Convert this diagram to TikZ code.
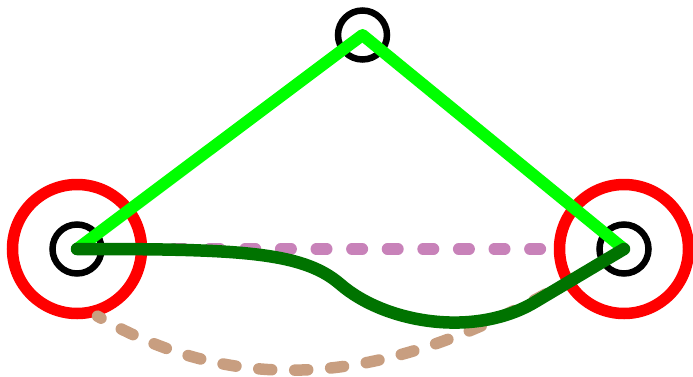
\documentclass[tikz,border=0pt]{standalone}
\usepackage{tikz}
\usetikzlibrary{calc}

\definecolor{limeline}{RGB}{0,255,0}
\definecolor{deepgreen}{RGB}{0,115,0}
\definecolor{mauve}{RGB}{200,130,185}
\definecolor{sand}{RGB}{200,158,128}

\begin{document}
\begin{tikzpicture}[x=1pt, y=1pt,
    vtx/.style={circle, draw=black, line width=6.5pt, minimum size=49pt, inner sep=0pt},
    ring/.style={circle, draw=red, line width=11.5pt, minimum size=129pt, inner sep=0pt},
    tri/.style={draw=limeline, line width=12pt, line join=round, line cap=round},
    wire/.style={draw=deepgreen, line width=12.5pt, line cap=round, line join=round},
    pinkdash/.style={draw=mauve, line width=11.5pt, line cap=round,
        dash pattern=on 10.5pt off 25.1pt, dash phase=9pt},
    sanddash/.style={draw=sand, line width=11.5pt, line cap=round,
        dash pattern=on 13pt off 23pt, dash phase=9pt}
]
\useasboundingbox (0,0) rectangle (693,376);
%% outer rings and the three vertices
\foreach \nm/\x in {L/77, R/624}{
  \node[ring] (ring\nm) at (\x,127) {};
  \node[vtx] (V\nm) at (\x,127) {};
}
\node[vtx] (VT) at (362.5,341) {};
%% dashed links between the rings
\draw[pinkdash] (ringL) -- (ringR);
\draw[sanddash] (ringL.-73) .. controls (236,-20) and (381.5,-13) .. (ringR.-150);
%% triangle sides
\draw[tri] (VL.center) -- (VT.center) -- (VR.center);
%% lower path
\coordinate (bend) at (340,92);
\coordinate (dip) at (535,74);
\draw[wire] (VL.center) .. controls (237,127) and (302,124.8) .. (bend)
  .. controls (385.3,52.6) and (475,38) .. (dip) -- (VR.center);
\end{tikzpicture}
\end{document}
